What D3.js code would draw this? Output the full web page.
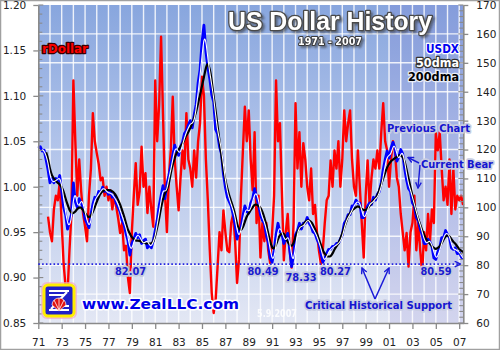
<!DOCTYPE html>
<html><head><meta charset="utf-8">
<script src="https://cdn.jsdelivr.net/npm/d3@7"></script>
<style>body{margin:0;background:#fff}svg{display:block}text{font-family:"DejaVu Sans",Verdana,sans-serif}</style>
</head><body><svg id="c" width="500" height="350"></svg>
<script>
// ---- data (bi-monthly steps) ----
const step = 1/6;
const usdxStart = 1971, ma50Start = 1971 + 2/6, ma200Start = 1971 + 4/6, rDollarStart = 1971 + 5/6;
const usdx = [
120.5,121,119.5,119.8,116.5,113,
108.5,110,108.5,110,109,111,
105.5,100,97.5,92.5,95,97.5,
108.5,102,100,103,101.5,100,
96,94.5,93,97.5,101,103.5,
103,105.5,105,107,105.5,106,
104.5,105.5,103.5,104,101.5,100,
98.5,95.5,94,91,88.5,83.5,
87.5,89,91,89.5,90.5,87.5,
88.5,89,86,87,86,88.5,
92,95.5,100.5,104,107.5,103,
108,111,114.5,118,121.5,119,
118,121,122.5,125.5,126.5,128.5,
130,127.5,132,135.5,143,147.5,
157,163,154,148.5,144.5,139,
136.5,127,125.5,121,118.5,111.5,
107,103.5,102,100.5,97.5,94,
89,92,92.5,97,100.5,98.5,
98,101.5,103,106.5,103.5,101,
97.5,95.5,94.5,90.5,88,82.5,
81,85,90.5,94.5,91.5,91,
87.5,89.5,91,85.5,79.5,83.5,
90.5,92,94.5,92.5,94.5,94.5,
96.5,94.5,93.5,91.5,91,89,
87.5,84.5,81,82.5,84,85.5,
85.5,86.5,86.5,87.5,87.5,89,
90.5,94.5,95.5,97.5,97.5,100.5,
100.5,102.5,101.5,101.5,96.5,96.5,
98,100.5,101.5,101,103.5,102.5,
104.5,105.5,108.5,113,116.5,119.5,
117,120.5,122.5,120.5,116,117.5,
120,118.5,113.5,109.5,106.5,105.5,
101.5,100.5,96.5,95.5,92.5,90.5,
87.5,87.5,89,88,86.5,82.5,
82,84.5,86,89.5,89.5,92,
90.5,89.5,86,85.5,86,84,
84.5,83,82];
const ma50 = [
120,119.5,118,115.5,
111,109,108.8,109.2,109.8,110.2,
108,103,98.5,94.5,93.5,96,
103,105,101,100.5,102.5,101.5,
98.5,95.5,93.5,95,99.5,102.5,
103.5,104.5,105.5,106.5,106.5,105.5,
105,105,104.5,103.5,102.5,101,
99,97,95,93,90,86,
85.5,88,89.5,90.5,90,88.5,
87.5,88,88.5,87,86.5,88,
90,94,98,102.5,106,105.5,
106,110,113,116.5,120,120.5,
119,119,121.5,124,126,127.5,
129,129,130,134,139.5,145.5,
152,159,158,151.5,146.5,142.5,
138,132,126.5,123.5,120,115,
109.5,105.5,103,101,99,96.5,
92,90,92,95,98.5,99.5,
98.5,99.5,102,104.5,105,102.5,
99,96.5,95,92.5,89.5,85.5,
82,82.5,87,92,93,91.5,
89.5,88.5,90,88.5,83,81.5,
86.5,91,93,93.5,93.5,94.5,
95.5,95.5,94,92.5,91.5,90,
88,86,83,81.5,83,84.5,
85.5,86,86.5,87,87.5,88.2,
89.8,92.5,95,96.5,97.5,99,
100.5,101.5,102,101.5,99,96.5,
97,99,101,101.5,102,103,
103.5,105,107,110.5,114.5,117.5,
118,118.5,121,121.5,118.5,116.5,
118.5,119,116,111.5,108,106,
103.5,101,98.5,96,94,91.5,
89,87.5,88,88.5,87,84.5,
82.5,83,85,87.5,89.5,91,
91,90,87.5,85.5,85.5,85,
84.5,83.5,82.5];
const ma200 = [
119,117,
113,111,110,109,108.5,108,
107,105.5,103,101,99,98,
98,98.5,99.5,100,100,99,
98,97,96.5,97,98.5,100,
102,103.5,105,105.5,106,106,
106,106,105.5,105,104,102.5,
101,99,97,94.5,92,91,
89.5,89,88.5,88.5,88.5,88,
88,87.5,87.5,87.5,87.5,88,
90,93,96,100,103,105,
106,108,112,115,117,119,
120,121,122,123.5,125,126,
127.5,129,131,133,136,139,
142,145,148.5,150,148,144,
138,133.5,128,123,118,113,
109.5,106.5,104,102,100,97.5,
94,92.5,92,93,95,97,
98,99,100,101,101,100.5,
100,98.5,96.5,94,91,88,
86,85.5,87,89,90.5,91,
91,89.5,88,87,86.5,87.5,
90,91.5,93,93.5,94,95,
95.5,95.5,95,94,92.5,91,
89,87,85,84,83,83,
83,84,85.5,86.5,87.5,89,
91,93,95,97,98,99,
99.5,100,100.5,100,99.5,99,
99,99.5,100.5,101.5,102.5,103,
104,106,108,110,112,114,
115,116,116.5,117,117.5,118,
118,117.5,116,113,110,107,
104,101,98,96,94,92,
90.5,89,88,87.5,86.5,86,
85.5,86,86.5,87.5,89,90,
90.5,90,89,88,87.5,86.5,
85.5,85,84.5];
const rDollar = [
0.967,
0.95,0.94,0.975,0.99,0.985,1.005,
0.96,0.915,0.89,0.882,0.93,0.97,
1.117,1.05,0.99,1.03,0.995,0.97,
0.956,0.94,0.99,1.02,1.081,1.05,
1.037,1.025,1.007,1.01,0.99,1.0,
0.985,0.996,0.975,0.99,0.978,0.965,
0.949,0.96,0.93,0.935,0.9,0.883,
0.95,0.99,1.026,0.98,0.995,1.044,
1.0,1.015,0.971,1.0,0.975,0.956,
1.117,1.05,1.09,1.165,1.08,0.993,
0.95,1.01,1.04,1.099,1.03,1.0,
0.974,1.01,1.04,1.02,1.081,1.03,
1.02,1.0,1.04,1.01,1.05,1.07,
1.121,1.10,1.03,0.985,0.93,0.883,
0.861,0.875,0.912,0.95,0.93,0.974,
0.95,0.93,0.928,0.96,0.97,0.94,
0.894,0.92,0.99,1.04,1.088,1.05,
1.084,1.03,0.996,1.06,0.96,0.99,
0.922,0.96,0.94,0.96,0.93,0.916,
0.95,0.99,1.117,1.05,1.07,0.995,
0.919,0.95,0.97,0.93,0.911,0.96,
1.092,1.02,1.06,1.0,1.048,1.03,
1.00,0.985,1.02,0.97,0.98,0.95,
0.93,0.915,0.93,0.96,0.985,0.99,
1.029,1.00,1.04,1.02,1.05,1.0,
1.03,1.084,1.05,1.07,1.084,1.03,
1.0,0.99,1.04,1.00,0.96,0.922,
0.99,1.029,0.98,1.01,1.03,1.02,
1.04,1.02,1.06,1.092,1.05,1.04,
1.00,1.03,1.05,1.04,1.01,1.00,
0.97,0.95,0.93,0.949,0.912,0.95,
0.96,0.99,0.93,0.96,0.93,0.905,
0.95,0.93,0.97,0.94,0.975,0.96,
1.059,1.04,1.06,1.02,0.985,1.0,
0.98,1.03,0.97,1.02,0.975,0.99,
0.985,0.99,0.98];
const yearTicks = d3.range(1971, 2008, 2);
const leftTicks = [0.85,0.90,0.95,1.00,1.05,1.10,1.15,1.20];
const rightTicks = [60,70,80,90,100,110,120,130,140,150,160,170];
const supportLevel = 80.4;
const lowLabels = ["82.07","80.49","78.33","80.27","80.59"];
const lowYears = [1978.89,1990.22,1993.47,1996.41,2005.02];
const shadeStart = 2001;

// ---- scales ----
const L = 38.3, R = 463.3, T = 5, B = 323;
const x = d3.scaleLinear().domain([1971, 2007.35]).range([L, R]);
const yR = d3.scaleLinear().domain([60, 170]).range([B, T]);
const yL = d3.scaleLinear().domain([0.85, 1.20]).range([B, T]);
const svg = d3.select("#c");

svg.append("rect").attr("x",0.5).attr("y",0.5).attr("width",499).attr("height",349)
  .attr("fill","#fff").attr("stroke","#a0a0a0").attr("stroke-width",1.5);

const defs = svg.append("defs");
const g = defs.append("linearGradient").attr("id","bg").attr("x1",0).attr("y1",0).attr("x2",0).attr("y2",1);
g.append("stop").attr("offset","0%").attr("stop-color","#88a6de");
g.append("stop").attr("offset","45%").attr("stop-color","#b2c4ea");
g.append("stop").attr("offset","100%").attr("stop-color","#e3e7f4");
const mk = defs.append("marker").attr("id","arr").attr("viewBox","0 0 10 10").attr("refX",9).attr("refY",5)
  .attr("markerWidth",7).attr("markerHeight",7).attr("markerUnits","userSpaceOnUse").attr("orient","auto");
mk.append("path").attr("d","M1,1 L9,5 L1,9").attr("fill","none").attr("stroke","#1a1ad8").attr("stroke-width",2);
const fs = defs.append("filter").attr("id","sh").attr("x","-10%").attr("y","-30%").attr("width","120%").attr("height","160%");
fs.append("feDropShadow").attr("dx",2).attr("dy",2).attr("stdDeviation",1).attr("flood-color","#333").attr("flood-opacity",0.55);

svg.append("rect").attr("x",L).attr("y",T).attr("width",R-L).attr("height",B-T).attr("fill","url(#bg)");
svg.append("rect").attr("x",x(shadeStart)).attr("y",T).attr("width",R-x(shadeStart)).attr("height",B-T)
  .attr("fill","#6a5cc8").attr("opacity",0.13);

// grid
svg.append("g").selectAll("line").data(d3.range(1972, 2008)).join("line")
  .attr("x1",d=>x(d)).attr("x2",d=>x(d)).attr("y1",T).attr("y2",B)
  .attr("stroke","#fff").attr("stroke-width",1.4).attr("opacity",0.85);
svg.append("g").selectAll("line").data(rightTicks.filter(d=>d>60&&d<170)).join("line")
  .attr("x1",L).attr("x2",R).attr("y1",d=>yR(d)).attr("y2",d=>yR(d))
  .attr("stroke","#fff").attr("stroke-width",1.4).attr("opacity",0.85);

// series
const lineR = (start) => d3.line().x((d,i)=>x(start+i*step)).y(d=>yR(d));
const lineL = d3.line().x((d,i)=>x(rDollarStart+i*step)).y(d=>yL(d));
svg.append("path").datum(rDollar).attr("d",lineL).attr("fill","none").attr("stroke","#ff0000").attr("stroke-width",2.4).attr("stroke-linejoin","round");
svg.append("path").datum(usdx).attr("d",lineR(usdxStart)).attr("fill","none").attr("stroke","#0000ff").attr("stroke-width",2.8).attr("stroke-linejoin","round");
svg.append("path").datum(ma200).attr("d",d3.line().curve(d3.curveBasis).x((d,i)=>x(ma200Start+i*step)).y(d=>yR(d))).attr("fill","none").attr("stroke","#000").attr("stroke-width",2.2);
svg.append("path").datum(ma50).attr("d",d3.line().curve(d3.curveBasis).x((d,i)=>x(ma50Start+i*step)).y(d=>yR(d))).attr("fill","none").attr("stroke","#fff").attr("stroke-width",1.1);

// axes
const axCol = "#8a8a8a";
const la = svg.append("g").attr("transform",`translate(${L},0)`)
  .call(d3.axisLeft(yL).tickValues(leftTicks).tickFormat(d3.format(".2f")).tickSizeInner(5).tickSizeOuter(0).tickPadding(7));
const ra = svg.append("g").attr("transform",`translate(${R},0)`)
  .call(d3.axisRight(yR).tickValues(rightTicks).tickSizeInner(5).tickSizeOuter(0).tickPadding(8));
const ba = svg.append("g").attr("transform",`translate(0,${B})`)
  .call(d3.axisBottom(x).tickValues(yearTicks).tickFormat(d=>String(d%100).padStart(2,"0")).tickSizeInner(6).tickSizeOuter(0).tickPadding(10));
[la,ra,ba].forEach(a=>{
  a.select(".domain").attr("stroke",axCol).attr("stroke-width",1.6);
  a.selectAll(".tick line").attr("stroke",axCol).attr("stroke-width",1.3);
  a.selectAll("text").attr("font-size","10.5px").attr("fill","#222").attr("font-family","DejaVu Sans, Verdana, sans-serif");
});
// inner minor ticks
svg.append("g").selectAll("line").data(d3.range(85,121).map(d=>d/100)).join("line")
  .attr("x1",L).attr("x2",d=>L+(Math.abs(d*20-Math.round(d*20))<1e-6?5:4)).attr("y1",d=>yL(d)).attr("y2",d=>yL(d))
  .attr("stroke",axCol).attr("stroke-width",1.1);
svg.append("g").selectAll("line").data(d3.range(60,171,2)).join("line")
  .attr("x1",R).attr("x2",d=>R-(d%10===0?5:4)).attr("y1",d=>yR(d)).attr("y2",d=>yR(d))
  .attr("stroke",axCol).attr("stroke-width",1.1);

// helper for outlined text
function txt(s, xx, yy, o){
  const t = svg.append("text").attr("x",xx).attr("y",yy).text(s)
    .attr("font-size",o.size+"px").attr("font-weight","bold").attr("fill",o.fill)
    .attr("stroke",o.stroke||"none").attr("stroke-width",o.sw||0)
    .style("paint-order","stroke").attr("stroke-linejoin","round");
  if (o.font) t.style("font-family",o.font);
  if (o.anchor) t.attr("text-anchor",o.anchor);
  if (o.len) t.attr("textLength",o.len).attr("lengthAdjust","spacingAndGlyphs");
  if (o.op) t.attr("opacity",o.op);
  if (o.shadow) t.attr("filter","url(#sh)");
  return t;
}

// title
txt("US Dollar History",228,30,{size:25,fill:"#fff",stroke:"#4a4a4a",sw:2.6,len:204,shadow:true,font:"'Liberation Sans', Arial, sans-serif"});
txt("1971 - 2007",298,44.6,{size:10,fill:"#fff",stroke:"#3a3a3a",sw:2,len:64,shadow:true});

// legend
txt("USDX",459,53,{size:11.5,fill:"#0000f0",stroke:"#ffffff",sw:2.5,len:33,anchor:"end"});
txt("50dma",459,67,{size:11.5,fill:"#fff",stroke:"#333",sw:2.5,len:43,anchor:"end"});
txt("200dma",459,81,{size:11.5,fill:"#000",stroke:"#e8ecf6",sw:2.5,len:51,anchor:"end"});
txt("rDollar",42,53,{size:11.5,fill:"#ff0000",stroke:"#3a0000",sw:2.5,len:46});

// support line
svg.append("line").attr("x1",L).attr("x2",R-3).attr("y1",yR(supportLevel)).attr("y2",yR(supportLevel))
  .attr("stroke","#2424e0").attr("stroke-width",1.7).attr("stroke-dasharray","1.6,2.2").attr("marker-end","url(#arr)");

lowLabels.forEach((s,i)=>{
  const yy = s==="78.33" ? yR(supportLevel)+17 : yR(supportLevel)+11;
  txt(s, x(lowYears[i]), yy, {size:11,fill:"#1a1ad0",stroke:"#c4c9dc",sw:3.5,len:31,anchor:"middle"});
});

// critical support
txt("Critical Historical Support",305,309,{size:11,fill:"#1515d0",stroke:"#c8cde2",sw:3.5,len:147});
svg.append("line").attr("x1",375).attr("y1",299).attr("x2",362).attr("y2",268).attr("stroke","#1a1ad8").attr("stroke-width",1.5).attr("marker-end","url(#arr)");
svg.append("line").attr("x1",375).attr("y1",299).attr("x2",389).attr("y2",268).attr("stroke","#1a1ad8").attr("stroke-width",1.5).attr("marker-end","url(#arr)");

// previous chart / current bear
txt("Previous Chart",387,131.5,{size:11,fill:"#1515d0",stroke:"#c8cde2",sw:3.5,len:83});
txt("Current Bear",421,168,{size:11,fill:"#1515d0",stroke:"#c8cde2",sw:3.5,len:72});
svg.append("line").attr("x1",419).attr("y1",163).attr("x2",408).attr("y2",157.5).attr("stroke","#1a1ad8").attr("stroke-width",1.4).attr("marker-end","url(#arr)");
svg.append("line").attr("x1",420).attr("y1",165).attr("x2",418).attr("y2",188).attr("stroke","#1a1ad8").attr("stroke-width",1.4).attr("marker-end","url(#arr)");

// date
txt("5.9.2007",257,317,{size:10.5,fill:"#ffffff",len:40,op:0.85});

// logo
const lg = svg.append("g").attr("transform","translate(43,284)");
lg.append("rect").attr("x",-1).attr("y",-1).attr("width",34).attr("height",35).attr("rx",5).attr("fill","none").attr("stroke","#f2a8c8").attr("stroke-width",2).attr("opacity",0.7);
lg.append("rect").attr("x",1).attr("y",1).attr("width",30).attr("height",31).attr("rx",4).attr("fill","#2020c8").attr("stroke","#ffee00").attr("stroke-width",3);
lg.append("path").attr("d","M6,7 L26,7 M6,11 L22,11 M10,22 L26,22 M6,26 L26,26 M24,8 L8,25").attr("stroke","#fff").attr("stroke-width",2.2).attr("fill","none");
lg.append("path").attr("d","M9,21 A7,7 0 0 1 23,21 L16,27 Z").attr("fill","#e01010").attr("stroke","#fff").attr("stroke-width",0.7);
lg.append("path").attr("d","M16,26 L11,16 M16,26 L16,14 M16,26 L21,16").attr("stroke","#fff").attr("stroke-width",0.8);
txt("www.ZealLLC.com",82,309,{size:14,fill:"#0000e8",stroke:"#ffffff",sw:3,len:157});
</script></body></html>
